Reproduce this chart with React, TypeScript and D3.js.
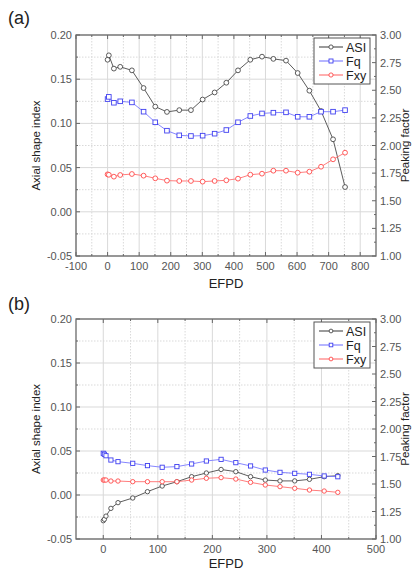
import React from 'react';
import * as d3 from 'd3';

// (a) full cycle
const efpdA = [0, 4, 20, 40, 77, 114, 151, 188, 227, 264, 301, 339, 376, 413, 452, 489, 525, 565, 602, 639, 676, 714, 752];
const asiA = [0.172, 0.177, 0.162, 0.164, 0.160, 0.140, 0.119, 0.113, 0.115, 0.115, 0.127, 0.135, 0.146, 0.160, 0.172, 0.1755, 0.173, 0.171, 0.157, 0.137, 0.114, 0.082, 0.028];
const fqA = [2.42, 2.44, 2.387, 2.40, 2.39, 2.306, 2.21, 2.134, 2.092, 2.086, 2.089, 2.107, 2.14, 2.21, 2.267, 2.29, 2.297, 2.30, 2.26, 2.26, 2.306, 2.306, 2.32];
const fxyA = [1.739, 1.735, 1.718, 1.733, 1.742, 1.727, 1.703, 1.682, 1.679, 1.679, 1.673, 1.679, 1.685, 1.70, 1.736, 1.745, 1.772, 1.772, 1.754, 1.763, 1.808, 1.875, 1.935];

// (b) second cycle
const efpdB = [0, 2, 5, 14, 27, 54, 81, 108, 135, 162, 189, 216, 243, 270, 297, 324, 351, 378, 405, 430];
const asiB = [-0.0292, -0.0276, -0.024, -0.0152, -0.0087, -0.0034, 0.0038, 0.0102, 0.0151, 0.0208, 0.025, 0.029, 0.0265, 0.0208, 0.017, 0.016, 0.016, 0.0178, 0.0208, 0.022];
const fqB = [1.779, 1.770, 1.757, 1.718, 1.703, 1.688, 1.667, 1.652, 1.658, 1.682, 1.709, 1.724, 1.694, 1.664, 1.627, 1.606, 1.597, 1.588, 1.573, 1.566];
const fxyB = [1.536, 1.536, 1.536, 1.527, 1.527, 1.521, 1.521, 1.521, 1.521, 1.536, 1.552, 1.558, 1.545, 1.515, 1.491, 1.476, 1.461, 1.445, 1.436, 1.424];

const xTicksA = [-100, 0, 100, 200, 300, 400, 500, 600, 700, 800];
const xMinorA = [-50, 50, 150, 250, 350, 450, 550, 650, 750];
const xTicksB = [0, 100, 200, 300, 400, 500];
const xMinorB = [50, 150, 250, 350, 450];
const asiTicks = [-0.05, 0, 0.05, 0.10, 0.15, 0.20];
const asiMinor = [-0.025, 0.025, 0.075, 0.125, 0.175];
const pfTicks = [1.0, 1.25, 1.5, 1.75, 2.0, 2.25, 2.5, 2.75, 3.0];
const pfMinor = [1.125, 1.375, 1.625, 1.875, 2.125, 2.375, 2.625, 2.875];

const FONT = '"Liberation Sans", Arial, sans-serif';
const ASI_C = '#4a4a4a';
const FQ_C = '#4040f0';
const FQ_LINE = '#7878ff';
const FXY_C = '#ff4a4a';
const FXY_LINE = '#ff6e6e';
const GRID = '#d9d9d9';
const X0 = 76, X1 = 376;

type PanelProps = {
  tag: string; tagY: number; top: number; bottom: number;
  xDomain: [number, number]; xTicks: number[]; xMinor: number[];
  efpd: number[]; asi: number[]; fq: number[]; fxy: number[];
  legendTop: number; legendStep: number; r: number; sq: number; titleY: number;
};

function Panel(p: PanelProps) {
  const { top, bottom } = p;
  const x = d3.scaleLinear().domain(p.xDomain).range([X0, X1]);
  const yL = d3.scaleLinear().domain([-0.05, 0.2]).range([bottom, top]);
  const yR = d3.scaleLinear().domain([1, 3]).range([bottom, top]);
  const idx = p.efpd.map((_, i) => i);
  const lineL = d3.line<number>().x(i => x(p.efpd[i])).y(i => yL(p.asi[i]));
  const lineFq = d3.line<number>().x(i => x(p.efpd[i])).y(i => yR(p.fq[i]));
  const lineFxy = d3.line<number>().x(i => x(p.efpd[i])).y(i => yR(p.fxy[i]));
  const cy = (top + bottom) / 2;
  const lx0 = 319, lx1 = 343;
  const lg = [
    { name: 'ASI', c: ASI_C, lc: ASI_C, shape: 'c' },
    { name: 'Fq', c: FQ_C, lc: FQ_LINE, shape: 's' },
    { name: 'Fxy', c: FXY_C, lc: FXY_LINE, shape: 'c' },
  ];
  return (
    <g>
      <text x={8} y={p.tagY} fontSize={18} fontFamily={FONT} fill="#222">{p.tag}</text>
      {/* grid */}
      {p.xMinor.map(v => <line key={'xm' + v} x1={x(v)} x2={x(v)} y1={top} y2={bottom} stroke={GRID} strokeDasharray="1.5,1.5" />)}
      {p.xTicks.map(v => <line key={'xg' + v} x1={x(v)} x2={x(v)} y1={top} y2={bottom} stroke={GRID} />)}
      {asiMinor.map(v => <line key={'ym' + v} x1={X0} x2={X1} y1={yL(v)} y2={yL(v)} stroke={GRID} strokeDasharray="1.5,1.5" />)}
      {asiTicks.map(v => <line key={'yg' + v} x1={X0} x2={X1} y1={yL(v)} y2={yL(v)} stroke={GRID} />)}
      {/* ticks */}
      {p.xTicks.map(v => (
        <g key={'xt' + v}>
          <line x1={x(v)} x2={x(v)} y1={bottom} y2={bottom - 4} stroke="#666" />
          <line x1={x(v)} x2={x(v)} y1={top} y2={top + 4} stroke="#666" />
          <text x={x(v)} y={bottom + 14} textAnchor="middle" fontSize={11} fontFamily={FONT} fill="#555">{v}</text>
        </g>
      ))}
      {p.xMinor.map(v => (
        <g key={'xtm' + v}>
          <line x1={x(v)} x2={x(v)} y1={bottom} y2={bottom - 2} stroke="#666" />
          <line x1={x(v)} x2={x(v)} y1={top} y2={top + 2} stroke="#666" />
        </g>
      ))}
      {asiTicks.map(v => (
        <g key={'yt' + v}>
          <line x1={X0} x2={X0 + 4} y1={yL(v)} y2={yL(v)} stroke="#666" />
          <text x={X0 - 4} y={yL(v) + 4} textAnchor="end" fontSize={11} fontFamily={FONT} fill="#555">{v.toFixed(2)}</text>
        </g>
      ))}
      {asiMinor.map(v => <line key={'ytm' + v} x1={X0} x2={X0 + 2} y1={yL(v)} y2={yL(v)} stroke="#666" />)}
      {pfTicks.map(v => (
        <g key={'rt' + v}>
          <line x1={X1} x2={X1 - 4} y1={yR(v)} y2={yR(v)} stroke="#666" />
          <text x={X1 + 4} y={yR(v) + 4} fontSize={11} fontFamily={FONT} fill="#555">{v.toFixed(2)}</text>
        </g>
      ))}
      {pfMinor.map(v => <line key={'rtm' + v} x1={X1} x2={X1 - 2} y1={yR(v)} y2={yR(v)} stroke="#666" />)}
      <rect x={X0} y={top} width={X1 - X0} height={bottom - top} fill="none" stroke="#6a6a6a" strokeWidth={1.3} />
      {/* series */}
      <path d={lineL(idx) || ''} fill="none" stroke={ASI_C} strokeWidth={0.9} />
      <path d={lineFq(idx) || ''} fill="none" stroke={FQ_LINE} strokeWidth={0.9} />
      <path d={lineFxy(idx) || ''} fill="none" stroke={FXY_LINE} strokeWidth={0.9} />
      {idx.map(i => <circle key={'a' + i} cx={x(p.efpd[i])} cy={yL(p.asi[i])} r={p.r} fill="white" stroke={ASI_C} strokeWidth={0.9} />)}
      {idx.map(i => <rect key={'q' + i} x={x(p.efpd[i]) - p.sq / 2} y={yR(p.fq[i]) - p.sq / 2} width={p.sq} height={p.sq} fill="white" stroke={FQ_C} strokeWidth={0.9} />)}
      {idx.map(i => <circle key={'f' + i} cx={x(p.efpd[i])} cy={yR(p.fxy[i])} r={p.r} fill="white" stroke={FXY_C} strokeWidth={0.9} />)}
      {/* legend */}
      <rect x={314} y={p.legendTop} width={56} height={p.legendStep * 3 + 4} fill="white" stroke="#555" strokeWidth={1} />
      {lg.map((s, k) => {
        const ly = p.legendTop + p.legendStep * (k + 0.5) + 2;
        const mx = (lx0 + lx1) / 2;
        return (
          <g key={s.name}>
            <line x1={lx0} x2={lx1} y1={ly} y2={ly} stroke={s.lc} strokeWidth={1.1} />
            {s.shape === 'c'
              ? <circle cx={mx} cy={ly} r={p.r - 0.3} fill="white" stroke={s.c} strokeWidth={0.9} />
              : <rect x={mx - p.sq / 2 + 0.3} y={ly - p.sq / 2 + 0.3} width={p.sq - 0.6} height={p.sq - 0.6} fill="white" stroke={s.c} strokeWidth={0.9} />}
            <text x={346} y={ly + 4.5} fontSize={12.5} fontFamily={FONT} fill="#222">{s.name}</text>
          </g>
        );
      })}
      {/* titles */}
      <text transform={`translate(40,${cy}) rotate(-90)`} textAnchor="middle" fontSize={11.5} fontFamily={FONT} fill="#222">Axial shape index</text>
      <text transform={`translate(409,${cy}) rotate(-90)`} textAnchor="middle" fontSize={11.5} fontFamily={FONT} fill="#222">Peaking factor</text>
      <text x={(X0 + X1) / 2} y={p.titleY} textAnchor="middle" fontSize={13} fontFamily={FONT} fill="#222">EFPD</text>
    </g>
  );
}

export default function App() {
  return (
    <div style={{ position: 'absolute', left: 0, top: 0, background: 'white' }}>
      <svg width={412} height={572} style={{ display: 'block' }}>
        <rect width={412} height={572} fill="white" />
        <Panel tag="(a)" tagY={24} top={35} bottom={256} xDomain={[-100, 850]} xTicks={xTicksA} xMinor={xMinorA}
          efpd={efpdA} asi={asiA} fq={fqA} fxy={fxyA} legendTop={38} legendStep={14} r={2.4} sq={4.6} titleY={288} />
        <Panel tag="(b)" tagY={310} top={319} bottom={539} xDomain={[-50, 500]} xTicks={xTicksB} xMinor={xMinorB}
          efpd={efpdB} asi={asiB} fq={fqB} fxy={fxyB} legendTop={322} legendStep={14} r={2.2} sq={4.2} titleY={568} />
      </svg>
    </div>
  );
}
